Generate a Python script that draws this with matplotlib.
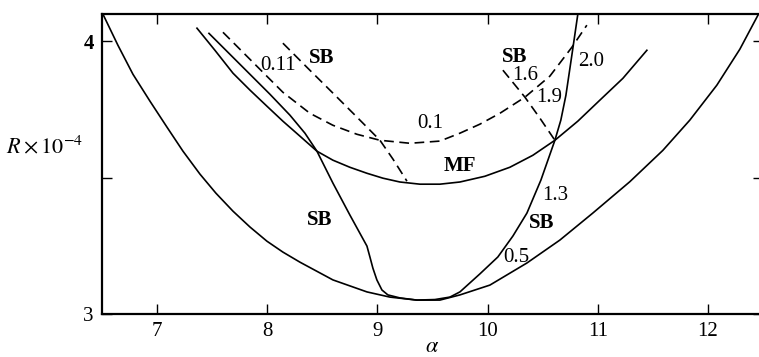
import matplotlib
matplotlib.use("Agg")
import matplotlib.pyplot as plt

plt.rcParams["font.family"] = "Liberation Serif"
plt.rcParams["mathtext.fontset"] = "stix"
plt.rcParams["lines.scale_dashes"] = False

# neutral curve (outer U)
outer_x = [6.509, 6.645, 6.781, 6.936, 7.090, 7.235, 7.389, 7.534, 7.689, 7.843,
           7.997, 8.142, 8.297, 8.596, 8.905, 9.113, 9.358, 9.567, 9.749, 10.021,
           10.357, 10.656, 10.955, 11.291, 11.591, 11.836, 12.081, 12.290, 12.444, 12.46]
outer_y = [4.099, 3.985, 3.879, 3.780, 3.685, 3.597, 3.513, 3.443, 3.377, 3.319,
           3.267, 3.227, 3.190, 3.125, 3.081, 3.062, 3.051, 3.051, 3.070, 3.106,
           3.187, 3.271, 3.370, 3.485, 3.600, 3.711, 3.839, 3.971, 4.088, 4.10]

# mean-flow curve
mf_x = [7.362, 7.525, 7.689, 7.843, 7.997, 8.142, 8.297, 8.451, 8.596, 8.750,
        8.905, 9.050, 9.204, 9.386, 9.567, 9.749, 9.975, 10.202, 10.411, 10.611,
        10.819, 11.019, 11.228, 11.446]
mf_y = [4.048, 3.967, 3.883, 3.821, 3.762, 3.707, 3.652, 3.597, 3.564, 3.538,
        3.516, 3.498, 3.484, 3.476, 3.476, 3.484, 3.505, 3.538, 3.582, 3.637,
        3.707, 3.784, 3.864, 3.967]

# solid SB boundary
sb_x = [7.471, 7.662, 7.843, 8.024, 8.206, 8.342, 8.451, 8.596, 8.750, 8.905,
        8.932, 8.959, 8.995, 9.041, 9.095, 9.204, 9.358, 9.522, 9.658, 9.749,
        9.930, 10.093, 10.230, 10.357, 10.484, 10.611, 10.665, 10.711, 10.765, 10.819]
sb_y = [4.029, 3.952, 3.879, 3.806, 3.729, 3.663, 3.597, 3.480, 3.363, 3.249,
        3.209, 3.168, 3.125, 3.088, 3.070, 3.059, 3.051, 3.053, 3.062, 3.081,
        3.147, 3.209, 3.286, 3.370, 3.491, 3.637, 3.711, 3.802, 3.949, 4.099]

# dashed 0.1 curve
d01_x = [7.598, 7.870, 8.142, 8.387, 8.596, 8.814, 9.023, 9.295, 9.567, 9.749,
         9.930, 10.112, 10.339, 10.565, 10.765, 10.901]
d01_y = [4.033, 3.923, 3.813, 3.736, 3.692, 3.659, 3.637, 3.626, 3.634, 3.663,
         3.696, 3.736, 3.795, 3.872, 3.978, 4.059]

# dashed SB branches
dsb1_x = [8.142, 8.369, 8.596, 8.814, 9.023, 9.141, 9.268]
dsb1_y = [3.993, 3.901, 3.810, 3.722, 3.637, 3.568, 3.487]
dsb2_x = [10.139, 10.339, 10.475, 10.611]
dsb2_y = [3.894, 3.795, 3.718, 3.637]

labels = [
    ("0.11", 8.10, 3.91, "normal"),
    ("SB", 8.49, 3.94, "bold"),
    ("0.1", 9.48, 3.70, "normal"),
    ("MF", 9.744, 3.544, "bold"),
    ("SB", 10.243, 3.943, "bold"),
    ("1.6", 10.343, 3.874, "normal"),
    ("1.9", 10.561, 3.793, "normal"),
    ("2.0", 10.942, 3.925, "normal"),
    ("SB", 8.474, 3.346, "bold"),
    ("1.3", 10.615, 3.436, "normal"),
    ("SB", 10.488, 3.335, "bold"),
    ("0.5", 10.261, 3.207, "normal"),
]

fig = plt.figure(figsize=(7.59, 3.57), dpi=100)
ax = fig.add_axes([102 / 759, 43 / 357, 661 / 759, 300 / 357])

lw = 1.2
ax.plot(outer_x, outer_y, color="black", lw=lw)
ax.plot(mf_x, mf_y, color="black", lw=lw)
ax.plot(sb_x, sb_y, color="black", lw=lw)
ax.plot(d01_x, d01_y, color="black", lw=lw, dashes=(7, 4))
ax.plot(dsb1_x, dsb1_y, color="black", lw=lw, dashes=(7, 4))
ax.plot(dsb2_x, dsb2_y, color="black", lw=lw, dashes=(7, 4))

for txt, x, y, w in labels:
    ax.text(x, y, txt, ha="center", va="center", fontsize=15, fontweight=w)

ax.set_xlim(6.5, 12.5)
ax.set_ylim(3, 4.1)
ax.set_xticks([7, 8, 9, 10, 11, 12])
ax.set_yticks([3, 3.5, 4])
ax.set_yticklabels(["3", "", "4"])
ax.get_yticklabels()[2].set_fontweight("bold")
ax.tick_params(direction="in", top=True, right=True, length=7, width=1,
               labelsize=15, pad=6)
for s in ax.spines.values():
    s.set_linewidth(1.6)

ax.set_xlabel(r"$\alpha$", fontsize=16)
ax.xaxis.set_label_coords(0.5, -0.08)
ax.text(-0.087, 3.61, r"$R\times10^{-4}$", transform=ax.get_yaxis_transform(),
        ha="center", va="center", fontsize=16)

fig.savefig("out.png", dpi=100)
